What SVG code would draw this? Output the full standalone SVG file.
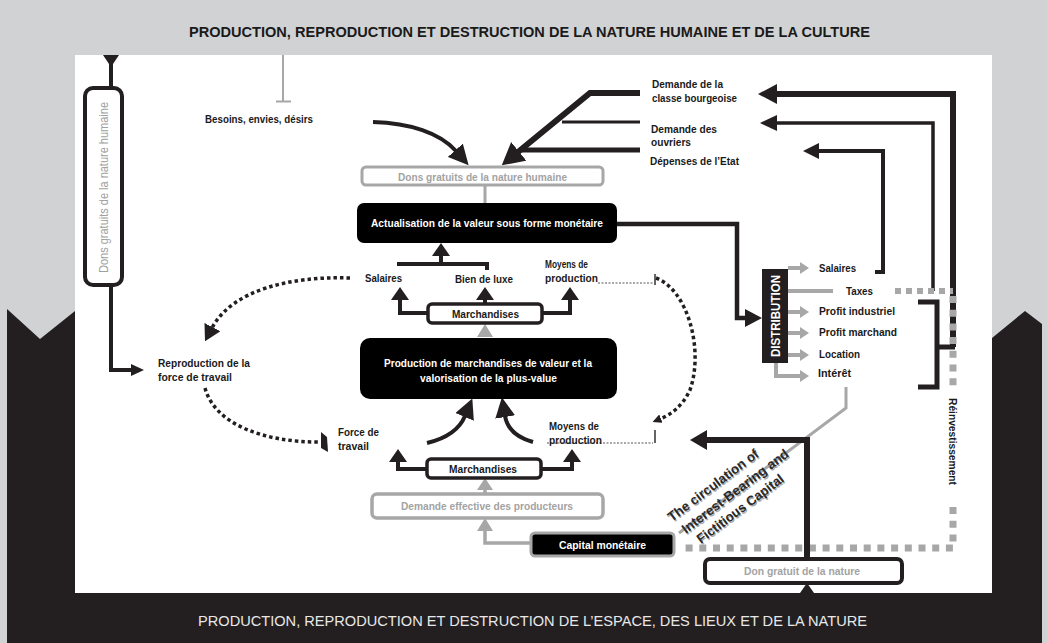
<svg xmlns="http://www.w3.org/2000/svg" width="1047" height="643" viewBox="0 0 1047 643">
<style>
text{font-family:'Liberation Sans',Arial,sans-serif}
.lb{font-size:11.5px;font-weight:bold;fill:#1a1a1a}
.wt{font-size:11.5px;font-weight:bold;fill:#fff}
.gt{font-size:11.5px;font-weight:bold;fill:#a3a3a3}
.ln{fill:none;stroke:#231f20;stroke-linejoin:miter}
.gl{fill:none;stroke:#a7a7a7}
.dot{fill:none;stroke:#231f20;stroke-width:3.5;stroke-dasharray:3.5 3}
.thin{fill:none;stroke:#555;stroke-width:1;stroke-dasharray:2 1.5}
.hd{fill:#231f20}
.gh{fill:#a7a7a7}
.sq{fill:none;stroke:#a7a7a7;stroke-width:7;stroke-dasharray:7 6.7}
.cap{font-size:13.5px;font-weight:bold}
</style>
<defs>
<marker id="ah" markerUnits="userSpaceOnUse" viewBox="0 0 20 20" markerWidth="20" markerHeight="20" refX="1" refY="10" orient="auto"><path d="M0,0 L20,10 L0,20z" fill="#231f20"/></marker>
<marker id="ahL" markerUnits="userSpaceOnUse" viewBox="0 0 22 24" markerWidth="22" markerHeight="24" refX="1" refY="12" orient="auto"><path d="M0,0 L22,12 L0,24z" fill="#231f20"/></marker>
<marker id="ahd" markerUnits="userSpaceOnUse" viewBox="0 0 16 18" markerWidth="16" markerHeight="18" refX="1" refY="9" orient="auto"><path d="M0,0 L16,9 L0,18z" fill="#231f20"/></marker>
<marker id="ahs" markerUnits="userSpaceOnUse" viewBox="0 0 9 9" markerWidth="9" markerHeight="9" refX="1" refY="4.5" orient="auto"><path d="M0,0 L9,4.5 L0,9z" fill="#231f20"/></marker>
</defs>

<!-- frame: grey field, white panel, black L band with chevrons -->
<rect x="0" y="0" width="1047" height="643" fill="#d1d2d4"/>
<rect x="75" y="55" width="917" height="538" fill="#fff"/>
<polygon points="7,309 40,339 75,311 75,593 992,593 992,338 1025,311 1042,324 1042,643 7,643" fill="#231f20"/>
<text x="189" y="36.5" textLength="681" lengthAdjust="spacingAndGlyphs" style="font-size:15px;font-weight:bold;fill:#1a1a1a">PRODUCTION, REPRODUCTION ET DESTRUCTION  DE LA NATURE HUMAINE ET DE LA CULTURE</text>
<text x="198" y="626" textLength="669" lengthAdjust="spacingAndGlyphs" style="font-size:14.5px;fill:#e8e8e8">PRODUCTION, REPRODUCTION ET DESTRUCTION  DE L’ESPACE, DES LIEUX ET DE LA NATURE</text>

<g id="connectors">
  <!-- left trunk -->
  <polygon class="hd" points="103,55 119,55 111,67"/>
  <path class="ln" stroke-width="4" d="M111,62 L111,370 L132,370"/>
  <polygon class="hd" points="131,364 144,370 131,376"/>
  <!-- needs stub -->
  <path class="gl" stroke="#bdbdbd" stroke-width="2" d="M283,55 L283,101 M276,101.5 L291,101.5"/>
  <path class="ln" stroke-width="4" d="M373,122 C410,123 440,133 456,151" marker-end="url(#ah)"/>
  <!-- demand arrows -->
  <path class="ln" stroke-width="6" d="M640,93 L590,93 L518,152" marker-end="url(#ahL)"/>
  <path class="ln" stroke-width="3" d="M562,122 L640,122"/>
  <path class="ln" stroke-width="5" d="M522,150 L640,150"/>
  <path class="ln" stroke-width="6" d="M775,94 L953,94 L953,347"/>
  <polygon class="hd" points="777,84 758,94 777,104"/>
  <path class="ln" stroke-width="3.5" d="M776,123 L933,123 L933,291"/>
  <polygon class="hd" points="777,115 760,123 777,131"/>
  <path class="ln" stroke-width="4" d="M818,151 L883,151 L883,272 L875,272"/>
  <polygon class="hd" points="819,143 803,151 819,159"/>
  <!-- gifts box to actualisation -->
  <path class="gl" stroke-width="3" d="M485,185 L485,203"/>
  <!-- actualisation to distribution -->
  <path class="ln" stroke-width="4.5" d="M617,224 L737,224 L737,318 L746,318"/>
  <polygon class="hd" points="745,309 762,318 745,327"/>
  <!-- upper commodities -->
  <path class="ln" stroke-width="4" d="M397,264 L487,264 L487,270 M441,264 L441,255"/>
  <polygon class="hd" points="432,256 441,243 450,256"/>
  <path class="ln" stroke-width="4" d="M428,313 L400,313 L400,299 M542,313 L570,313 L570,299 M485,304 L485,299"/>
  <polygon class="hd" points="391,300 400,287 409,300"/>
  <polygon class="hd" points="561,300 570,287 579,300"/>
  <polygon class="hd" points="476,300 485,287 494,300"/>
  <polygon class="gh" points="477,337 485,324 493,337"/>
  <!-- lower commodities -->
  <path class="ln" stroke-width="4" d="M427,443 C448,438 460,428 465,416" marker-end="url(#ah)"/>
  <path class="ln" stroke-width="4" d="M533,442 C515,437 507,428 505,416" marker-end="url(#ah)"/>
  <path class="ln" stroke-width="4" d="M427,469 L398,469 L398,461 M541,469 L572,469 L572,461"/>
  <polygon class="hd" points="389,462 398,449 407,462"/>
  <polygon class="hd" points="563,462 572,449 581,462"/>
  <path class="gl" stroke-width="3.5" d="M485,494 L485,489"/>
  <polygon class="gh" points="477,490 485,478 493,490"/>
  <path class="gl" stroke-width="3.5" d="M531,543 L485,543 L485,530"/>
  <polygon class="gh" points="477,531 485,518 493,531"/>
  <!-- labour power cycle -->
  <path class="dot" d="M350,278 C290,276 232,290 212,328" marker-end="url(#ahd)"/>
  <path class="dot" d="M205,388 C215,425 265,442 318,442"/>
  <polygon class="hd" points="321,432 327,437 328,452 321,448"/>
  <path class="dot" d="M656,278 C688,290 704,350 690,390 C682,407 670,415 660,419" marker-end="url(#ahs)"/>
  <path class="thin" d="M598,283 L653,283 M547,443 L653,443"/>
  <path fill="none" stroke="#333" stroke-width="1.5" d="M655,274 L655,285 M655,430 L655,443"/>
  <!-- distribution outputs -->
  <g class="gl" stroke-width="4">
    <path d="M788,268 L801,268 M788,291 L833,291 M788,312 L801,312 M788,333 L801,333 M788,355 L801,355 M776,363 L776,376 L801,376"/>
  </g>
  <polygon class="gh" points="800,262 809,268 800,274"/>
  <polygon class="gh" points="800,306 809,312 800,318"/>
  <polygon class="gh" points="800,327 809,333 800,339"/>
  <polygon class="gh" points="800,349 809,355 800,361"/>
  <polygon class="gh" points="800,370 809,376 800,382"/>
  <path class="gl" stroke-width="3" d="M846,387 L846,408 L679,533"/>
  <!-- profits bracket and reinvestment -->
  <path class="ln" stroke-width="5" d="M918,302 L937,302 L937,387 L918,387 M937,347 L955,347"/>
  <path class="gl" stroke-width="6" stroke-dasharray="6 5" d="M895,291 L953,291"/>
  <path class="sq" d="M953,296 L953,392"/>
  <path class="sq" d="M953,507 L953,548 L683,548"/>
  <!-- free gift of nature -->
  <path class="ln" stroke-width="6" d="M807,559 L807,440 L706,440"/>
  <polygon class="hd" points="707,430 690,440 707,450"/>
  <polygon class="hd" points="800,593 807,583 814,593"/>
</g>

<g id="label-circulation">
  <g transform="translate(673,523.5) rotate(-37)"><text class="cap" fill="#a9a9a9" textLength="110" lengthAdjust="spacingAndGlyphs">The circulation of</text></g>
  <g transform="translate(672,522) rotate(-37)"><text class="cap" fill="#2a2a2a" textLength="110" lengthAdjust="spacingAndGlyphs">The circulation of</text></g>
  <g transform="translate(687,535.5) rotate(-37)"><text class="cap" fill="#a9a9a9" textLength="130" lengthAdjust="spacingAndGlyphs">Interest-Bearing and</text></g>
  <g transform="translate(686,534) rotate(-37)"><text class="cap" fill="#2a2a2a" textLength="130" lengthAdjust="spacingAndGlyphs">Interest-Bearing and</text></g>
  <g transform="translate(702,545.5) rotate(-37)"><text class="cap" fill="#a9a9a9" textLength="105" lengthAdjust="spacingAndGlyphs">Fictitious Capital</text></g>
  <g transform="translate(701,544) rotate(-37)"><text class="cap" fill="#2a2a2a" textLength="105" lengthAdjust="spacingAndGlyphs">Fictitious Capital</text></g>
</g>

<g id="node-dons-vertical">
  <rect x="85" y="88" width="37" height="197" rx="8" fill="#fff" stroke="#231f20" stroke-width="4"/>
  <text transform="translate(108,273) rotate(-90)" textLength="171" lengthAdjust="spacingAndGlyphs" style="font-size:12px;fill:#a0a0a0">Dons gratuits de la nature humaine</text>
</g>
<g id="node-besoins"><text class="lb" x="205" y="123" textLength="108" lengthAdjust="spacingAndGlyphs">Besoins, envies, désirs</text></g>
<g id="node-demande-bourgeoise">
  <text class="lb" x="652" y="88" textLength="71" lengthAdjust="spacingAndGlyphs">Demande de la</text>
  <text class="lb" x="652" y="102" textLength="85" lengthAdjust="spacingAndGlyphs">classe bourgeoise</text>
</g>
<g id="node-demande-ouvriers">
  <text class="lb" x="651" y="133" textLength="66" lengthAdjust="spacingAndGlyphs">Demande des</text>
  <text class="lb" x="651" y="146" textLength="40" lengthAdjust="spacingAndGlyphs">ouvriers</text>
</g>
<g id="node-depenses"><text class="lb" x="650" y="165" textLength="89" lengthAdjust="spacingAndGlyphs">Dépenses de l’Etat</text></g>
<g id="node-dons-humaine">
  <rect x="362" y="167" width="241" height="18" rx="4" fill="#fff" stroke="#a7a7a7" stroke-width="3"/>
  <text class="gt" x="398" y="180.5" textLength="169" lengthAdjust="spacingAndGlyphs">Dons gratuits de la nature humaine</text>
</g>
<g id="node-actualisation">
  <rect x="357" y="203" width="260" height="40" rx="7" fill="#000"/>
  <text class="wt" x="371" y="227" textLength="232" lengthAdjust="spacingAndGlyphs">Actualisation de la valeur sous forme monétaire</text>
</g>
<g id="node-salaires-haut"><text class="lb" x="365" y="282" textLength="37" lengthAdjust="spacingAndGlyphs">Salaires</text></g>
<g id="node-luxe"><text class="lb" x="455" y="283" textLength="58" lengthAdjust="spacingAndGlyphs">Bien de luxe</text></g>
<g id="node-moyens-haut">
  <text class="lb" x="545" y="268" textLength="43" lengthAdjust="spacingAndGlyphs">Moyens de</text>
  <text class="lb" x="545" y="282" textLength="53" lengthAdjust="spacingAndGlyphs">production</text>
</g>
<g id="node-marchandises-haut">
  <rect x="428" y="304" width="114" height="19" rx="4" fill="#fff" stroke="#231f20" stroke-width="3.5"/>
  <text class="lb" x="452" y="317.5" textLength="67" lengthAdjust="spacingAndGlyphs">Marchandises</text>
</g>
<g id="node-production">
  <rect x="360" y="338" width="257" height="61" rx="10" fill="#000"/>
  <text class="wt" x="384" y="367" textLength="208" lengthAdjust="spacingAndGlyphs">Production de marchandises de valeur et la</text>
  <text class="wt" x="420" y="381.5" textLength="137" lengthAdjust="spacingAndGlyphs">valorisation de la plus-value</text>
</g>
<g id="node-reproduction">
  <text class="lb" x="158" y="367" textLength="92" lengthAdjust="spacingAndGlyphs">Reproduction de la</text>
  <text class="lb" x="158" y="381" textLength="74" lengthAdjust="spacingAndGlyphs">force de travail</text>
</g>
<g id="node-force">
  <text class="lb" x="338" y="436" textLength="41" lengthAdjust="spacingAndGlyphs">Force de</text>
  <text class="lb" x="338" y="450" textLength="31" lengthAdjust="spacingAndGlyphs">travail</text>
</g>
<g id="node-moyens-bas">
  <text class="lb" x="549" y="430" textLength="50" lengthAdjust="spacingAndGlyphs">Moyens de</text>
  <text class="lb" x="549" y="444" textLength="53" lengthAdjust="spacingAndGlyphs">production</text>
</g>
<g id="node-marchandises-bas">
  <rect x="427" y="459" width="114" height="19" rx="4" fill="#fff" stroke="#231f20" stroke-width="3.5"/>
  <text class="lb" x="449" y="473" textLength="68" lengthAdjust="spacingAndGlyphs">Marchandises</text>
</g>
<g id="node-demande-effective">
  <rect x="372" y="494" width="231" height="24" rx="5" fill="#fff" stroke="#a7a7a7" stroke-width="3.5"/>
  <text class="gt" x="401" y="510" textLength="172" lengthAdjust="spacingAndGlyphs">Demande effective des producteurs</text>
</g>
<g id="node-capital">
  <rect x="531" y="533" width="143" height="23" rx="4" fill="#000" stroke="#a7a7a7" stroke-width="3"/>
  <text class="wt" x="559" y="549" textLength="87" lengthAdjust="spacingAndGlyphs">Capital monétaire</text>
</g>
<g id="node-don-nature">
  <rect x="705" y="559" width="197" height="24" rx="5" fill="#fff" stroke="#231f20" stroke-width="4"/>
  <text class="gt" x="744" y="575" textLength="116" lengthAdjust="spacingAndGlyphs">Don gratuit de la nature</text>
</g>
<g id="node-distribution">
  <rect x="762" y="269" width="26" height="94" fill="#231f20"/>
  <text transform="translate(780,357) rotate(-90)" textLength="82" lengthAdjust="spacingAndGlyphs" style="font-size:13px;font-weight:bold;fill:#fff">DISTRIBUTION</text>
</g>
<g id="node-revenus">
  <text class="lb" x="819" y="272" textLength="37" lengthAdjust="spacingAndGlyphs">Salaires</text>
  <text class="lb" x="846" y="295" textLength="27" lengthAdjust="spacingAndGlyphs">Taxes</text>
  <text class="lb" x="819" y="315" textLength="76" lengthAdjust="spacingAndGlyphs">Profit industriel</text>
  <text class="lb" x="819" y="336" textLength="78" lengthAdjust="spacingAndGlyphs">Profit marchand</text>
  <text class="lb" x="819" y="358" textLength="41" lengthAdjust="spacingAndGlyphs">Location</text>
  <text class="lb" x="818" y="377" textLength="33" lengthAdjust="spacingAndGlyphs">Intérêt</text>
</g>
<g id="node-reinvestissement">
  <text class="lb" transform="translate(949,398) rotate(90)" textLength="87" lengthAdjust="spacingAndGlyphs">Réinvestissement</text>
</g>
</svg>
